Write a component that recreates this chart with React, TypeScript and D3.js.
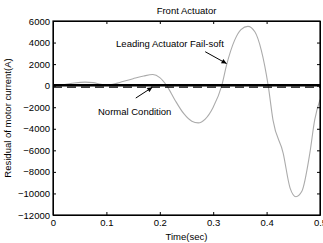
import { useEffect, useRef } from "react";
import * as d3 from "d3";

// Leading actuator fail-soft residual
const failTime = [0, 0.02, 0.04, 0.06, 0.075, 0.09, 0.1, 0.112, 0.125, 0.15, 0.17, 0.187, 0.2, 0.213, 0.228, 0.245, 0.26, 0.272, 0.285, 0.3, 0.316, 0.325, 0.34, 0.352, 0.365, 0.378, 0.39, 0.403, 0.412, 0.431, 0.444, 0.455, 0.466, 0.481, 0.49, 0.5];
const failValues = [0, 80, 250, 330, 280, 120, 60, 120, 300, 650, 900, 1030, 750, 0, -1300, -2600, -3300, -3450, -3100, -2000, 0, 1900, 4200, 5200, 5500, 5000, 3300, 0, -3200, -6250, -9500, -10300, -9800, -6250, -3200, -1300];

// Normal condition residual (thick line + ripple just under it)
const normalTime = [0, 0.5];
const normalValues = [50, 50];
const rippleValues = [-130, -130];

const xTicks = [0, 0.1, 0.2, 0.3, 0.4, 0.5];
const yTicks = [6000, 4000, 2000, 0, -2000, -4000, -6000, -8000, -10000, -12000];

const title = "Front Actuator";
const xLabel = "Time(sec)";
const yLabel = "Residual of motor current(A)";

// annotations in data coordinates: text anchor, arrow tail, arrow head
const notes = [
  { text: "Leading Actuator Fail-soft", tx: 0.219, ty: 3550, x1: 0.285, y1: 3150, x2: 0.325, y2: 2050 },
  { text: "Normal Condition", tx: 0.153, ty: -2750, x1: 0.155, y1: -1150, x2: 0.186, y2: -150 },
];

export default function App() {
  const svgRef = useRef<SVGSVGElement>(null);
  const width = 323;
  const height = 243;
  const margin = { top: 21, right: 3, bottom: 28, left: 53 };

  useEffect(() => {
    const svg = d3.select(svgRef.current);
    svg.selectAll("*").remove();
    const font = "'Liberation Sans', Arial, sans-serif";

    const x = d3.scaleLinear().domain([0, 0.5]).range([margin.left, width - margin.right]);
    const y = d3.scaleLinear().domain([-12000, 6000]).range([height - margin.bottom, margin.top]);

    svg.append("rect").attr("width", width).attr("height", height).attr("fill", "#fff");

    // arrow marker
    svg
      .append("defs")
      .append("marker")
      .attr("id", "arrow")
      .attr("viewBox", "0 0 10 10")
      .attr("refX", 10)
      .attr("refY", 5)
      .attr("markerWidth", 7)
      .attr("markerHeight", 5)
      .attr("markerUnits", "userSpaceOnUse")
      .attr("orient", "auto")
      .append("path")
      .attr("d", "M0,0L10,5L0,10z")
      .attr("fill", "#000");

    const line = d3
      .line<number>()
      .x((_, i) => x(failTime[i]))
      .y((d) => y(d))
      .curve(d3.curveMonotoneX);

    svg
      .append("path")
      .datum(failValues)
      .attr("fill", "none")
      .attr("stroke", "#ababab")
      .attr("stroke-width", 1.1)
      .attr("d", line);

    const nline = d3
      .line<number>()
      .x((_, i) => x(normalTime[i]))
      .y((d) => y(d));

    svg
      .append("path")
      .datum(rippleValues)
      .attr("fill", "none")
      .attr("stroke", "#000")
      .attr("stroke-width", 1.3)
      .attr("stroke-dasharray", "9,5")
      .attr("d", nline);

    svg
      .append("path")
      .datum(normalValues)
      .attr("fill", "none")
      .attr("stroke", "#000")
      .attr("stroke-width", 2.5)
      .attr("d", nline);

    // axes (MATLAB box, inward ticks)
    const tick = 3;
    svg
      .append("g")
      .attr("transform", `translate(0,${height - margin.bottom})`)
      .call(d3.axisBottom(x).tickValues(xTicks).tickFormat(d3.format("")).tickSizeInner(-tick).tickSizeOuter(0).tickPadding(4));
    svg
      .append("g")
      .attr("transform", `translate(0,${margin.top})`)
      .call(d3.axisTop(x).tickValues(xTicks).tickFormat(() => "").tickSizeInner(-tick).tickSizeOuter(0));
    svg
      .append("g")
      .attr("transform", `translate(${margin.left},0)`)
      .call(d3.axisLeft(y).tickValues(yTicks).tickFormat(d3.format("")).tickSizeInner(-tick).tickSizeOuter(0).tickPadding(3));
    svg
      .append("g")
      .attr("transform", `translate(${width - margin.right},0)`)
      .call(d3.axisRight(y).tickValues(yTicks).tickFormat(() => "").tickSizeInner(-tick).tickSizeOuter(0));

    svg.selectAll(".tick text").attr("font-family", font).attr("font-size", "9.5px").attr("fill", "#000");
    svg.selectAll(".tick line").attr("stroke", "#000");
    svg.selectAll("path.domain").attr("stroke", "#000");

    svg
      .append("rect")
      .attr("x", margin.left)
      .attr("y", margin.top)
      .attr("width", width - margin.left - margin.right)
      .attr("height", height - margin.top - margin.bottom)
      .attr("fill", "none")
      .attr("stroke", "#000")
      .attr("stroke-width", 1.2);

    // annotations
    notes.forEach((n) => {
      svg
        .append("text")
        .attr("x", x(n.tx))
        .attr("y", y(n.ty))
        .attr("text-anchor", "middle")
        .attr("font-family", font)
        .attr("font-size", "9.5px")
        .text(n.text);
      svg
        .append("line")
        .attr("x1", x(n.x1))
        .attr("y1", y(n.y1))
        .attr("x2", x(n.x2))
        .attr("y2", y(n.y2))
        .attr("stroke", "#000")
        .attr("stroke-width", 1)
        .attr("marker-end", "url(#arrow)");
    });

    // titles
    const cx = (margin.left + width - margin.right) / 2;
    svg
      .append("text")
      .attr("x", cx)
      .attr("y", 14)
      .attr("text-anchor", "middle")
      .attr("font-family", font)
      .attr("font-size", "9.5px")
      .text(title);
    svg
      .append("text")
      .attr("x", cx)
      .attr("y", 240)
      .attr("text-anchor", "middle")
      .attr("font-family", font)
      .attr("font-size", "9.5px")
      .text(xLabel);
    svg
      .append("text")
      .attr("transform", `translate(11,${(margin.top + height - margin.bottom) / 2}) rotate(-90)`)
      .attr("text-anchor", "middle")
      .attr("font-family", font)
      .attr("font-size", "9.5px")
      .text(yLabel);
  }, []);

  return (
    <svg
      ref={svgRef}
      width={width}
      height={height}
      style={{ position: "absolute", left: 0, top: 0, display: "block" }}
    />
  );
}
